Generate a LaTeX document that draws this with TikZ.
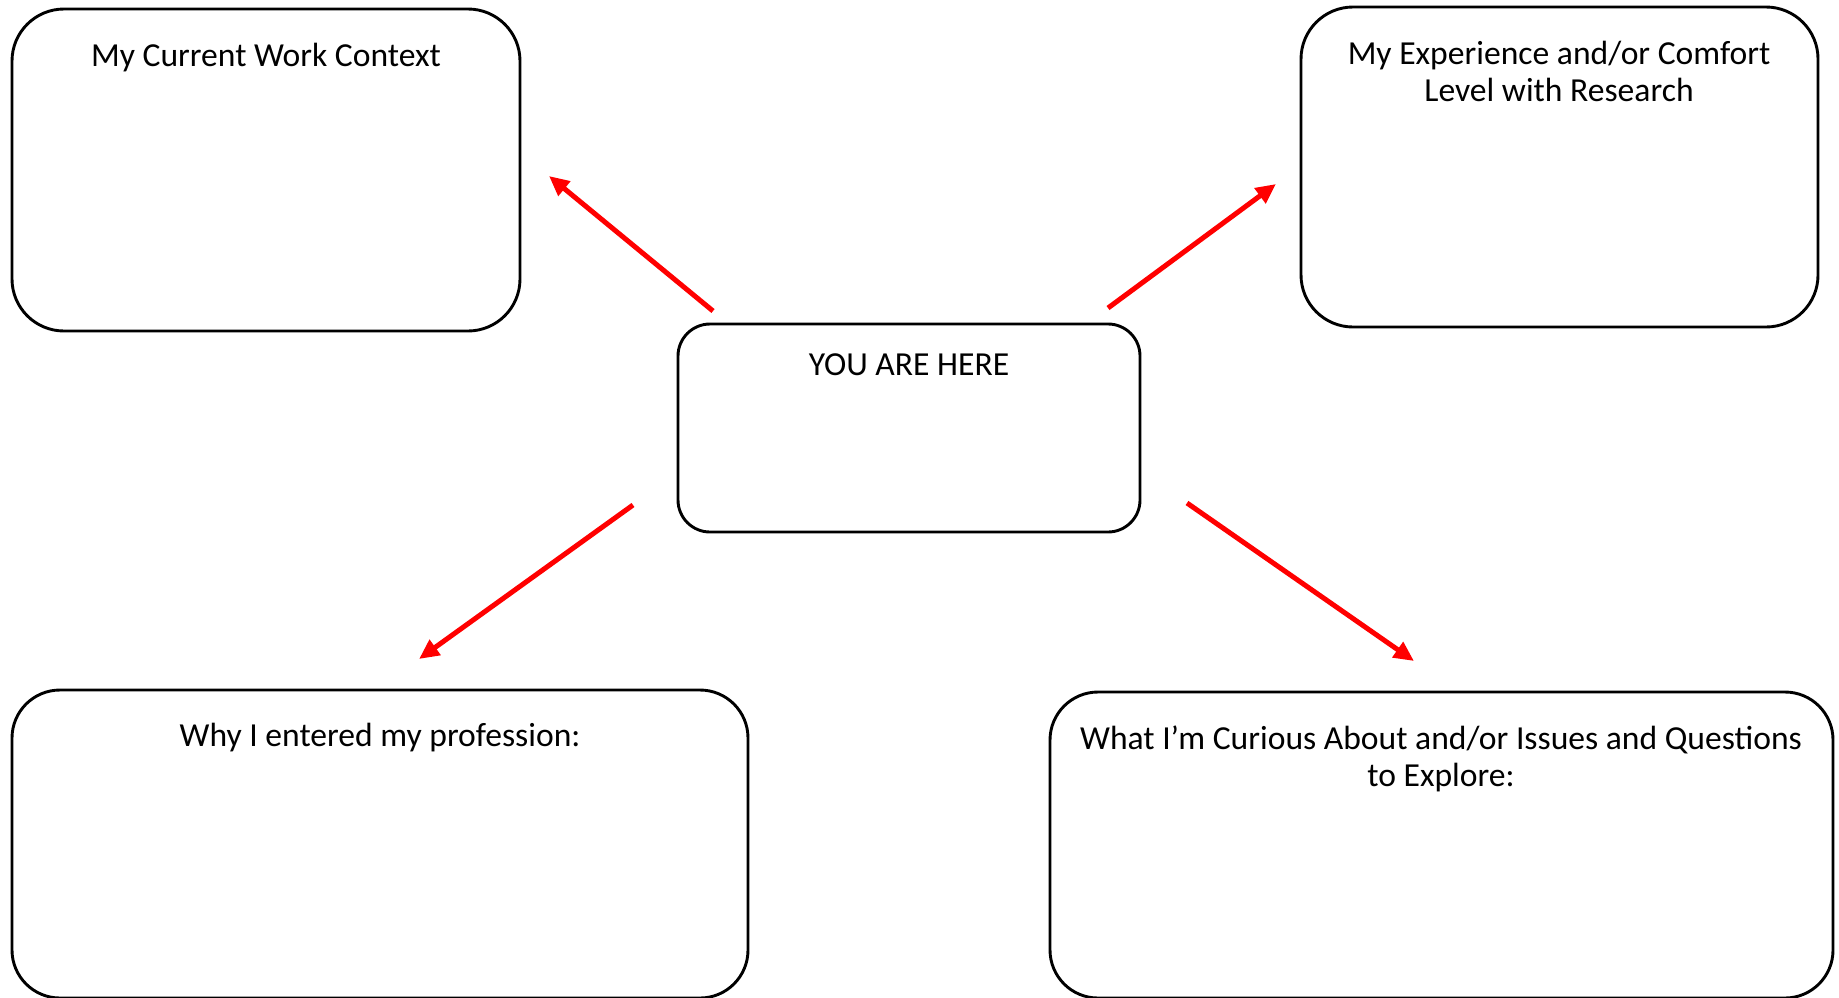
\documentclass[tikz,border=0pt]{standalone}
\usepackage{fontspec}
\setmainfont{Carlito}
\usetikzlibrary{arrows.meta}
\tikzset{every picture/.style={line width=1.45pt}}
\tikzset{
  box/.style={draw, rounded corners=#1, inner sep=0pt},
  box/.default=25pt,
  lbl/.style={anchor=base, align=center, inner sep=0.75pt, font=\fontsize{16.8}{18.5}\selectfont},
  pointer/.style={draw=red, line width=2.5pt, -{Triangle[length=10pt,width=9pt]}}
}

\begin{document}
\begin{tikzpicture}[x=0.5pt,y=0.5pt,yscale=-1]
\useasboundingbox (0,0) rectangle (1839,997); %page in pixels of the sheet

%Shape: Rounded Rect [id:cur]
\node (cur) [box=26pt, minimum width=254pt, minimum height=161pt] at (266,170) {};
%Shape: Rounded Rect [id:exp]
\node (exp) [box=26pt, minimum width=258.5pt, minimum height=160pt] at (1559.5,167) {};
%Shape: Rounded Rect [id:here]
\node (here) [box=16pt, minimum width=231pt, minimum height=104pt] at (909,428) {};
%Shape: Rounded Rect [id:why]
\node (why) [box=24pt, minimum width=368pt, minimum height=154pt] at (380,844) {};
%Shape: Rounded Rect [id:curious]
\node (curious) [box=24pt, minimum width=391.5pt, minimum height=153pt] at (1441.5,845) {};

%Straight Lines [id:toCur]
\coordinate (toCurA) at (713,311);
\coordinate (toCurB) at (549,176);
\draw [pointer] (toCurA) -- (toCurB);
%Straight Lines [id:toExp]
\coordinate (toExpA) at (1108,308);
\coordinate (toExpB) at (1276,184);
\draw [pointer] (toExpA) -- (toExpB);
%Straight Lines [id:toWhy]
\coordinate (toWhyA) at (633,505);
\coordinate (toWhyB) at (419,659);
\draw [pointer] (toWhyA) -- (toWhyB);
%Straight Lines [id:toCurious]
\coordinate (toCuriousA) at (1187,503);
\coordinate (toCuriousB) at (1414,661);
\draw [pointer] (toCuriousA) -- (toCuriousB);

% Text Node
\node (curTxt) [lbl] at (266,66) {My Current Work Context};
% Text Node (base = last line)
\node (expTxt) [lbl] at (1559,101) {My Experience and/or Comfort\\Level with Research};
% Text Node
\node (hereTxt) [lbl] at (909,375) {YOU ARE HERE};
% Text Node
\node (whyTxt) [lbl] at (380,746) {Why I entered my profession:};
% Text Node (base = last line)
\node (curiousTxt) [lbl] at (1441,786) {What I’m Curious About and/or Issues and Questions\\to Explore:};

\end{tikzpicture}
\end{document}
